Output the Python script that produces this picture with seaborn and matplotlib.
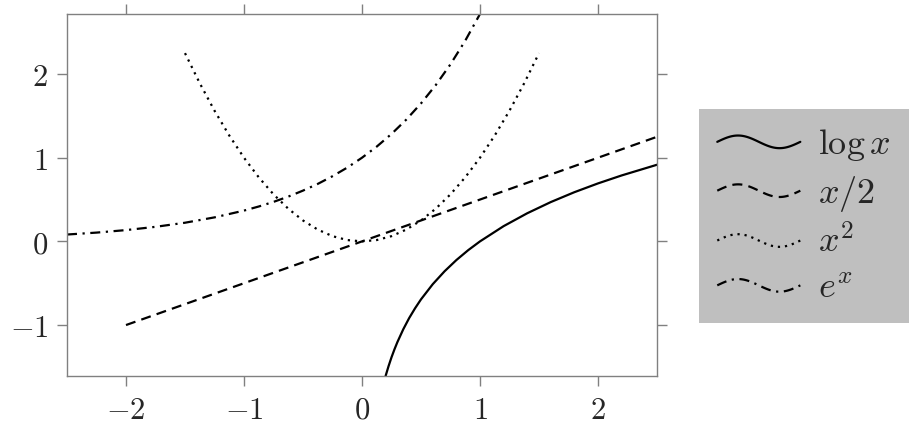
import numpy as np
import matplotlib
matplotlib.use("Agg")
import matplotlib.pyplot as plt
import seaborn as sns
from matplotlib.legend_handler import HandlerLine2D
from matplotlib.lines import Line2D
from matplotlib.ticker import FuncFormatter

# ---- data ----
log_x = [0.2, 0.225, 0.25, 0.275, 0.3, 0.35, 0.4, 0.45, 0.5, 0.6, 0.7, 0.8, 0.9,
         1.0, 1.2, 1.4, 1.6, 1.8, 2.0, 2.2, 2.5]
log_y = [-1.609, -1.492, -1.386, -1.291, -1.204, -1.050, -0.916, -0.799, -0.693,
         -0.511, -0.357, -0.223, -0.105, 0.0, 0.182, 0.336, 0.470, 0.588, 0.693,
         0.788, 0.916]

half_x = [-2.0, 2.5]
half_y = [-1.0, 1.25]

sq_x = [-1.5, -1.375, -1.25, -1.125, -1.0, -0.875, -0.75, -0.625, -0.5, -0.375,
        -0.25, -0.125, 0.0, 0.125, 0.25, 0.375, 0.5, 0.625, 0.75, 0.875, 1.0,
        1.125, 1.25, 1.375, 1.5]
sq_y = [2.25, 1.891, 1.5625, 1.266, 1.0, 0.766, 0.5625, 0.391, 0.25, 0.141,
        0.0625, 0.016, 0.0, 0.016, 0.0625, 0.141, 0.25, 0.391, 0.5625, 0.766, 1.0,
        1.266, 1.5625, 1.891, 2.25]

exp_x = [-2.5, -2.25, -2.0, -1.75, -1.5, -1.25, -1.0, -0.875, -0.75, -0.625, -0.5,
         -0.375, -0.25, -0.125, 0.0, 0.125, 0.25, 0.375, 0.5, 0.625, 0.75, 0.875, 1.0]
exp_y = [0.082, 0.105, 0.135, 0.174, 0.223, 0.287, 0.368, 0.417, 0.472, 0.535,
         0.607, 0.687, 0.779, 0.882, 1.0, 1.133, 1.284, 1.455, 1.649, 1.868, 2.117,
         2.399, 2.718]

labels = [r"$\log x$", r"$x/2$", r"$x^2$", r"$e^x$"]
x_ticks = [-2, -1, 0, 1, 2]
y_ticks = [-1, 0, 1, 2]

# ---- style ----
sns.set_style("ticks")
plt.rcParams["mathtext.fontset"] = "cm"
plt.rcParams["font.family"] = ["DejaVu Serif"]

fig = plt.figure(figsize=(9.14, 4.24), dpi=100)
ax = fig.add_axes([0.0733, 0.1132, 0.6455, 0.8538])

lw = 1.6
sns.lineplot(x=log_x, y=log_y, ax=ax, color="black", lw=lw, linestyle="-",
             label=labels[0], sort=False, estimator=None)
sns.lineplot(x=half_x, y=half_y, ax=ax, color="black", lw=lw,
             linestyle=(0, (4.5, 2.8)), label=labels[1], sort=False, estimator=None)
sns.lineplot(x=sq_x, y=sq_y, ax=ax, color="black", lw=lw,
             linestyle=(0, (1.0, 2.2)), label=labels[2], sort=False, estimator=None)
sns.lineplot(x=exp_x, y=exp_y, ax=ax, color="black", lw=lw,
             linestyle=(0, (4.5, 2.5, 1.0, 2.5)), label=labels[3], sort=False,
             estimator=None)

ax.set_xlim(-2.5, 2.5)
ax.set_ylim(-1.609, 2.718)
ax.set_xticks(x_ticks)
ax.set_yticks(y_ticks)
fmt = FuncFormatter(lambda v, p: "$%g$" % v)
ax.xaxis.set_major_formatter(fmt)
ax.yaxis.set_major_formatter(fmt)
ax.set_xlabel("")
ax.set_ylabel("")

for s in ax.spines.values():
    s.set_visible(True)
    s.set_color("#808080")
    s.set_linewidth(1.0)
ax.tick_params(which="both", direction="out", length=7.5, width=1.0,
               color="#808080", top=True, right=True, labelsize=22,
               labeltop=False, labelright=False, pad=6)


class WaveHandler(HandlerLine2D):
    def create_artists(self, legend, orig_handle, xdescent, ydescent, width,
                       height, fontsize, trans):
        t = np.linspace(0, 1, 80)
        xs = -xdescent + t * width
        ys = -ydescent + height / 2 + 0.25 * height * np.sin(2 * np.pi * t)
        line = Line2D(xs, ys)
        self.update_prop(line, orig_handle, legend)
        line.set_transform(trans)
        return [line]


handles, labs = ax.get_legend_handles_labels()
if ax.legend_ is not None:
    ax.legend_.remove()
leg = fig.legend(handles, labs, loc="center left",
                 bbox_to_anchor=(0.765, 0.49), bbox_transform=fig.transFigure,
                 handler_map={Line2D: WaveHandler()}, fontsize=26,
                 frameon=True, fancybox=False, facecolor="#bfbfbf",
                 edgecolor="none", framealpha=1.0, handlelength=2.3,
                 handletextpad=0.5, labelspacing=0.3, borderpad=0.5,
                 borderaxespad=0.0)

fig.savefig("out.png", dpi=100)
